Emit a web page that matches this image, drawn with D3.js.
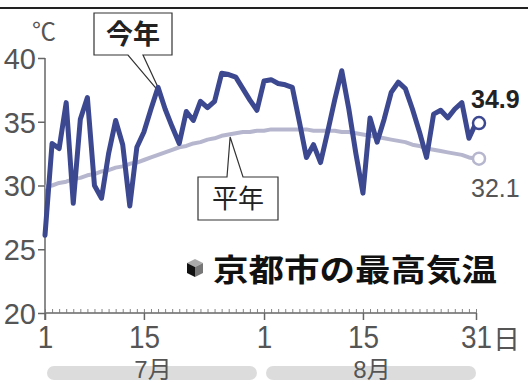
<!DOCTYPE html>
<html>
<head>
<meta charset="utf-8">
<script src="https://cdn.jsdelivr.net/npm/d3@7"></script>
<style>
  html, body { margin: 0; padding: 0; background: #fff; }
  svg { display: block; }
  text { font-family: "Liberation Sans", "Noto Sans CJK JP", sans-serif; }
</style>
</head>
<body>
<svg id="chart" width="528" height="385"></svg>
<script>
// ---- data ----
const thisYear = [
  26.1, 33.3, 32.9, 36.5, 28.6, 35.2, 36.9, 30.0, 29.0, 32.5,
  35.1, 33.2, 28.4, 33.0, 34.2, 36.0, 37.7, 36.0, 34.6, 33.3,
  35.8, 35.1, 36.6, 36.1, 36.6, 38.8, 38.7, 38.5, 37.6, 36.7, 35.9,
  38.2, 38.3, 38.0, 37.9, 37.7, 35.0, 32.2, 33.2, 31.8, 34.2,
  36.7, 39.0, 36.0, 32.5, 29.4, 35.3, 33.4, 35.2, 37.3, 38.1,
  37.6, 36.0, 34.2, 32.2, 35.6, 35.9, 35.3, 36.0, 36.5, 33.7, 34.9
];
const normalYear = [
  29.9, 30.0, 30.2, 30.3, 30.5, 30.6, 30.8, 30.9, 31.1, 31.2,
  31.4, 31.5, 31.7, 31.8, 32.0, 32.2, 32.4, 32.6, 32.8, 33.0,
  33.1, 33.3, 33.4, 33.6, 33.7, 33.9, 34.0, 34.1, 34.2, 34.2, 34.3,
  34.3, 34.4, 34.4, 34.4, 34.4, 34.4, 34.4, 34.3, 34.3, 34.3,
  34.3, 34.2, 34.2, 34.1, 34.0, 33.9, 33.8, 33.7, 33.6, 33.5,
  33.4, 33.2, 33.1, 32.9, 32.8, 32.7, 32.6, 32.5, 32.4, 32.2, 32.1
];
const yTicks = [20, 25, 30, 35, 40];
const xTickLabels = [
  { idx: 0, label: "1" }, { idx: 14, label: "15" },
  { idx: 31, label: "1" }, { idx: 45, label: "15" }, { idx: 61, label: "31" }
];
const months = [
  { label: "7月", from: 0, to: 30 },
  { label: "8月", from: 31, to: 61 }
];
const seriesLabels = { thisYear: "今年", normal: "平年" };
const title = "京都市の最高気温";
const unit = "℃";
const dayUnit = "日";

// ---- scales ----
const svg = d3.select("#chart");
const x = d3.scaleLinear().domain([0, 61]).range([45, 476]);
const y = d3.scaleLinear().domain([20, 40]).range([313, 58]);

const lineColor = "#3c4890";
const normColor = "#b6b7ce";
const axisColor = "#666";

// top rule
svg.append("line").attr("x1", 0).attr("x2", 528).attr("y1", 8).attr("y2", 8)
  .attr("stroke", "#222").attr("stroke-width", 2);

// ---- y axis ----
const yAxis = d3.axisLeft(y).tickValues(yTicks).tickSize(7).tickPadding(4);
const gy = svg.append("g").attr("transform", "translate(45,0)").call(yAxis);
gy.select(".domain").remove();
gy.selectAll(".tick line").attr("stroke", axisColor).attr("stroke-width", 1.5);
gy.selectAll(".tick text").attr("fill", "#555").attr("font-size", 29)
  .attr("font-family", "Liberation Sans").attr("dy", "0.36em").attr("x", -9);
svg.append("line").attr("x1", 45).attr("x2", 45).attr("y1", y(40)).attr("y2", 320)
  .attr("stroke", axisColor).attr("stroke-width", 1.5);
svg.append("text").attr("x", 32).attr("y", 40).attr("font-size", 24)
  .attr("fill", "#555").attr("font-family", "Noto Sans CJK JP").text(unit);

// ---- x axis ----
svg.append("line").attr("x1", 45).attr("x2", x(61)).attr("y1", 313).attr("y2", 313)
  .attr("stroke", axisColor).attr("stroke-width", 1.5);
const minorAxis = d3.axisTop(x).tickValues(d3.range(0, 62)).tickSize(4).tickFormat("");
const gxm = svg.append("g").attr("transform", "translate(0,313)").call(minorAxis);
gxm.select(".domain").remove();
gxm.selectAll(".tick line").attr("stroke", "#777").attr("stroke-width", 0.9);
const majorAxis = d3.axisBottom(x).tickValues(xTickLabels.map(d => d.idx)).tickSize(7)
  .tickFormat((d) => xTickLabels.find(t => t.idx === d).label).tickPadding(6);
const gx = svg.append("g").attr("transform", "translate(0,313)").call(majorAxis);
gx.select(".domain").remove();
gx.selectAll(".tick line").attr("stroke", axisColor).attr("stroke-width", 1.5);
gx.selectAll(".tick text").attr("fill", "#555").attr("font-size", 31)
  .attr("font-family", "Liberation Sans").attr("dy", "0.72em")
  .attr("transform", "scale(0.9,1)");
svg.append("text").attr("x", x(61) + 17).attr("y", 349).attr("font-size", 27)
  .attr("fill", "#555").attr("font-family", "Noto Sans CJK JP").text(dayUnit);

// month bars
months.forEach(m => {
  svg.append("rect").attr("x", x(m.from) + 2).attr("width", x(m.to) - x(m.from) - 2)
    .attr("y", 366).attr("height", 14).attr("rx", 7).attr("fill", "#dcdcdc");
  svg.append("text").attr("x", (x(m.from) + x(m.to)) / 2 + 2).attr("y", 378)
    .attr("text-anchor", "middle").attr("font-size", 24).attr("fill", "#555")
    .attr("font-family", "Noto Sans CJK JP").text(m.label);
});

// ---- callouts ----
function callout(bx, by, bw, bh, tipX, tipY, side, a, b, label, bold) {
  let p;
  if (side === "bottom") {
    p = `M${bx},${by} H${bx + bw} V${by + bh} H${b} L${tipX},${tipY} L${a},${by + bh} H${bx} Z`;
  } else {
    p = `M${bx},${by + bh} H${bx + bw} V${by} H${b} L${tipX},${tipY} L${a},${by} H${bx} Z`;
  }
  svg.append("path").attr("d", p).attr("fill", "#fff").attr("stroke", "#333").attr("stroke-width", 1.2);
  svg.append("text").attr("x", bx + bw / 2).attr("y", by + bh / 2).attr("dy", "0.36em")
    .attr("text-anchor", "middle").attr("font-size", bold ? 27 : 26)
    .attr("font-weight", bold ? 700 : 400).attr("fill", "#222")
    .attr("font-family", "Noto Sans CJK JP").text(label);
}
callout(94, 13, 78, 42, x(16.5), y(37.1), "bottom", 128, 143, seriesLabels.thisYear, true);
callout(198, 177, 80, 43, x(26.2), y(33.8), "top", 227, 243, seriesLabels.normal, false);

// ---- lines ----
const lineGen = d3.line().x((d, i) => x(i)).y(d => y(d)).curve(d3.curveLinear);
svg.append("path").datum(normalYear).attr("d", lineGen).attr("fill", "none")
  .attr("stroke", normColor).attr("stroke-width", 4).attr("stroke-linejoin", "round");
svg.append("path").datum(thisYear).attr("d", lineGen).attr("fill", "none")
  .attr("stroke", lineColor).attr("stroke-width", 5).attr("stroke-linejoin", "round")
  .attr("stroke-linecap", "round");

// end markers
svg.append("circle").attr("cx", x(61) + 3).attr("cy", y(normalYear[61])).attr("r", 6)
  .attr("fill", "#fff").attr("stroke", normColor).attr("stroke-width", 2.5);
svg.append("circle").attr("cx", x(61) + 3).attr("cy", y(thisYear[61])).attr("r", 6)
  .attr("fill", "#fff").attr("stroke", lineColor).attr("stroke-width", 2.5);

svg.append("text").attr("x", 471).attr("y", 108).attr("font-size", 25).attr("font-weight", 700)
  .attr("fill", "#222").attr("font-family", "Liberation Sans").text(thisYear[61].toFixed(1));
svg.append("text").attr("x", 471).attr("y", 197).attr("font-size", 25)
  .attr("fill", "#555").attr("font-family", "Liberation Sans").text(normalYear[61].toFixed(1));

// ---- title with icon ----
const icon = svg.append("g").attr("transform", "translate(195,268)");
icon.append("path").attr("d", "M0,-9 L8,-5 L0,-1 L-8,-5 Z").attr("fill", "#aaa");
icon.append("path").attr("d", "M-8,-5 L0,-1 L0,9 L-8,5 Z").attr("fill", "#111");
icon.append("path").attr("d", "M8,-5 L0,-1 L0,9 L8,5 Z").attr("fill", "#777");
svg.append("text").attr("x", 213).attr("y", 281).attr("font-size", 31).attr("font-weight", 700)
  .attr("fill", "#111").attr("font-family", "Noto Sans CJK JP")
  .attr("textLength", 284).attr("lengthAdjust", "spacingAndGlyphs").text(title);
</script>
</body>
</html>
